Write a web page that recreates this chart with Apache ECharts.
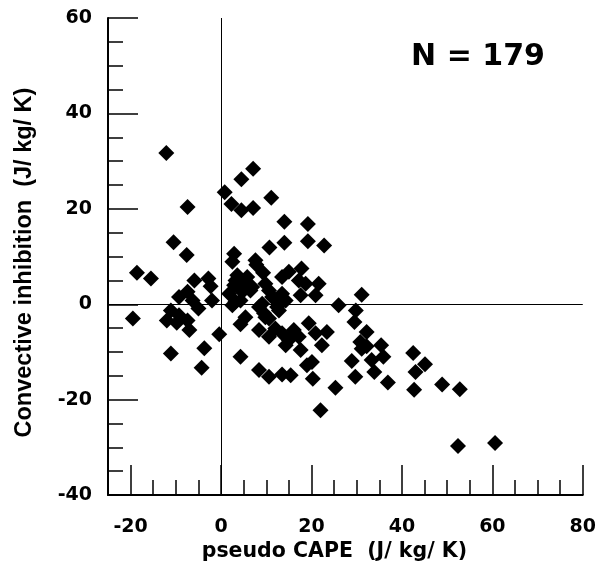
<!DOCTYPE html>
<html>
<head>
<meta charset="utf-8">
<script src="https://cdn.jsdelivr.net/npm/echarts@6/dist/echarts.min.js"></script>
<style>html,body{margin:0;padding:0;background:#fff;}#c{width:599px;height:567px;}</style>
</head>
<body>
<div id="c"></div>
<script>
// pseudo CAPE (J/kg/K)
var capeValues = [
  -12.1, 7.1, 4.5, 0.8, 11.1, -7.4, 2.3, 4.5, 7.1, 14.0,
  19.2, -10.5, -7.6, 14.0, 19.2, 22.8, 10.7, 2.9, 7.6, 2.5,
  7.8, 9.3, -18.6, -15.5, -5.9, -2.8, -2.3, -7.4, -9.3, -6.3,
  -2.0, -5.0, -11.1, -9.3, -12.0, -9.8, -7.4, -7.0, -19.5, -0.4,
  -3.7, -11.1, -4.3, 2.5, 4.3, 4.3, 4.3, 2.9, 3.6, 5.4,
  6.5, 9.8, 10.6, 11.7, 9.1, 9.5, 10.6, 12.8, 13.5, 14.3,
  13.5, 15.0, 17.8, 17.2, 18.7, 17.6, 21.6, 20.9, 26.0, 8.4,
  10.6, 12.0, 13.5, 15.0, 16.1, 17.2, 19.4, 20.9, 23.4, 22.3,
  17.6, 14.3, 20.1, 19.0, 8.4, 10.6, 13.5, 15.4, 20.3, 25.3,
  22.0, 31.1, 29.8, 29.5, 32.2, 30.8, 31.1, 32.2, 35.4, 35.9,
  28.9, 33.3, 33.9, 29.7, 36.9, 42.5, 45.1, 43.0, 42.7, 48.9,
  52.8, 52.4, 60.6, 3.2, 5.8, 6.9, 4.7, 1.8, 3.2, 8.4,
  9.8, 12.4, 11.3, 5.4
];
// Convective inhibition (J/kg/K)
var cinValues = [
  31.7, 28.4, 26.2, 23.5, 22.3, 20.4, 21.0, 19.7, 20.2, 17.3,
  16.8, 13.0, 10.3, 12.9, 13.2, 12.3, 11.9, 10.6, 9.2, 8.9,
  8.3, 6.6, 6.6, 5.4, 5.0, 5.4, 3.8, 2.6, 1.5, 0.8,
  0.8, -0.9, -1.3, -2.3, -3.4, -3.9, -3.4, -5.4, -3.0, -6.3,
  -9.2, -10.3, -13.3, -0.2, 0.8, -4.2, -11.0, 4.0, 6.1, 4.7,
  2.9, 4.3, 2.9, 1.2, 0.1, -1.9, -3.0, -1.3, 2.2, 0.8,
  5.7, 6.8, 7.5, 5.0, 4.3, 1.9, 4.3, 1.9, -0.2, -5.4,
  -6.8, -5.1, -6.1, -7.5, -5.4, -6.8, -4.0, -6.1, -5.8, -8.6,
  -9.6, -8.6, -12.1, -12.8, -13.8, -15.2, -14.7, -14.9, -15.6, -17.5,
  -22.2, 2.0, -1.3, -3.7, -5.8, -7.9, -9.3, -8.8, -8.6, -11.0,
  -11.9, -11.7, -14.2, -15.2, -16.4, -10.2, -12.6, -14.2, -17.9, -16.8,
  -17.8, -29.7, -29.1, 5.0, 5.7, 3.6, 2.6, 2.2, 0.5, -0.6,
  -2.7, -0.6, 1.5, -2.7
];
var xMajorTicks = [-20, 0, 20, 40, 60, 80];
var titleText = 'N = 179';
var xName = 'pseudo CAPE  (J/ kg/ K)';
var yName = 'Convective inhibition  (J/ kg/ K)';

var points = capeValues.map(function (v, i) { return [v, cinValues[i]]; });

var tickFont = { fontFamily: 'DejaVu Sans', fontWeight: 'bold', fontSize: 19, color: '#000' };
var chart = echarts.init(document.getElementById('c'), null, { renderer: 'canvas' });
chart.setOption({
  animation: false,
  backgroundColor: '#fff',
  grid: { left: 108, top: 18, width: 477, height: 478, containLabel: false },
  xAxis: [
    {
      type: 'value', min: -25, max: 80, interval: 5, position: 'bottom',
      axisLine: { onZero: false, lineStyle: { color: '#000', width: 2 } },
      axisTick: { inside: true, length: 15, lineStyle: { color: '#000', width: 1.5 } },
      axisLabel: Object.assign({ margin: 22, formatter: function (v) { return (v % 20 === 0) ? String(v) : ''; } }, tickFont),
      splitLine: { show: false },
      name: xName, nameLocation: 'middle', nameGap: 44,
      nameTextStyle: { fontFamily: 'DejaVu Sans', fontWeight: 'bold', fontSize: 20.5, color: '#000', padding: [0, 22, 0, 0] }
    },
    {
      type: 'value', min: -25, max: 80, position: 'bottom',
      axisLine: { show: false, onZero: false },
      axisTick: { inside: true, length: 30, customValues: xMajorTicks, lineStyle: { color: '#000', width: 1.5 } },
      axisLabel: { show: false },
      splitLine: { show: false }
    }
  ],
  yAxis: [
    {
      type: 'value', min: -40, max: 60, interval: 20,
      axisLine: { onZero: false, lineStyle: { color: '#000', width: 2 } },
      axisTick: { inside: true, length: 30, lineStyle: { color: '#000', width: 1.5 } },
      minorTick: { show: true, splitNumber: 4, length: 15, lineStyle: { color: '#000', width: 1.5 } },
      axisLabel: Object.assign({ margin: 16 }, tickFont),
      splitLine: { show: false },
      minorSplitLine: { show: false },
      name: yName, nameLocation: 'middle', nameGap: 71,
      nameTextStyle: { fontFamily: 'Liberation Sans', fontWeight: 'bold', fontSize: 23.5, color: '#000', padding: [0, 12, 0, 0] }
    }
  ],
  graphic: [
    {
      type: 'text', x: 478, y: 57,
      style: { text: titleText, fontFamily: 'DejaVu Sans', fontWeight: 'bold', fontSize: 30, fill: '#000', align: 'center', verticalAlign: 'middle' }
    }
  ],
  series: [
    {
      type: 'scatter', xAxisIndex: 0, yAxisIndex: 0,
      symbol: 'diamond', symbolSize: 16,
      itemStyle: { color: '#000', opacity: 1 },
      data: points,
      markLine: {
        silent: true, symbol: 'none', animation: false,
        label: { show: false },
        lineStyle: { color: '#000', width: 1, type: 'solid' },
        emphasis: { disabled: true },
        data: [{ xAxis: 0 }, { yAxis: 0 }]
      }
    }
  ]
});
</script>
</body>
</html>
